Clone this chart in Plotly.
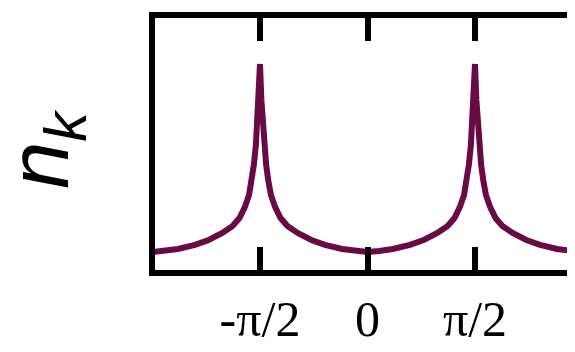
import plotly.graph_objects as go

# momentum k (rad)
k_values = [
    -3.1416, -2.9708, -2.7708, -2.5208, -2.3208, -2.1208, -1.9708, -1.8708,
    -1.7908, -1.7308, -1.6908, -1.6608, -1.6308, -1.6108, -1.5908, -1.5708,
    -1.5508, -1.5308, -1.5108, -1.4808, -1.4508, -1.4108, -1.3508, -1.2708,
    -1.1708, -1.0208, -0.8208, -0.6208, -0.3708, -0.1708, 0.0,
    0.1708, 0.3708, 0.6208, 0.8208, 1.0208, 1.1708, 1.2708, 1.3508,
    1.4108, 1.4508, 1.4808, 1.5108, 1.5308, 1.5508, 1.5708,
    1.5908, 1.6108, 1.6308, 1.6608, 1.6908, 1.7308, 1.7908, 1.8708,
    1.9708, 2.1208, 2.3208, 2.5208, 2.7708, 2.9708, 3.1416,
]
# occupation n_k (arbitrary units)
n_values = [
    0.081, 0.085, 0.093, 0.109, 0.128, 0.155, 0.182, 0.213,
    0.256, 0.302, 0.360, 0.419, 0.496, 0.574, 0.671, 0.810,
    0.671, 0.574, 0.496, 0.419, 0.360, 0.302, 0.256, 0.213,
    0.182, 0.155, 0.128, 0.109, 0.093, 0.085, 0.081,
    0.085, 0.093, 0.109, 0.128, 0.155, 0.182, 0.213, 0.256,
    0.302, 0.360, 0.419, 0.496, 0.574, 0.671, 0.810,
    0.671, 0.574, 0.496, 0.419, 0.360, 0.302, 0.256, 0.213,
    0.182, 0.155, 0.128, 0.109, 0.093, 0.085, 0.081,
]

tick_vals = [-1.5708, 0.0, 1.5708]
tick_text = ["-π/2", "0", "π/2"]
y_title = "<i>n</i><sub><i>k</i></sub>"

fig = go.Figure()
fig.add_trace(go.Scatter(
    x=k_values, y=n_values, mode="lines",
    line=dict(color="#6a0a45", width=6),
    showlegend=False, hoverinfo="skip",
))

fig.update_layout(
    width=567, height=344,
    margin=dict(l=147, r=0, t=10, b=82),
    paper_bgcolor="white", plot_bgcolor="white",
)
fig.update_xaxes(
    range=[-3.105, 3.032], automargin=False,
    showgrid=False, zeroline=False,
    showline=True, linecolor="black", linewidth=6, mirror="ticks",
    ticks="inside", ticklen=23, tickwidth=6, tickcolor="black",
    tickvals=tick_vals, ticktext=tick_text,
    tickfont=dict(family="Liberation Serif", size=50, color="black"),
)
fig.update_yaxes(
    range=[0.0116, 0.9884], automargin=False,
    showgrid=False, zeroline=False,
    showline=True, linecolor="black", linewidth=6, mirror=False,
    ticks="", showticklabels=False,
)
fig.add_annotation(
    text=y_title, textangle=-90, showarrow=False,
    xref="paper", yref="paper", x=-0.262, y=0.48,
    xanchor="center", yanchor="middle",
    font=dict(family="Liberation Sans", size=85, color="black"),
)

fig.write_html("out.html")
